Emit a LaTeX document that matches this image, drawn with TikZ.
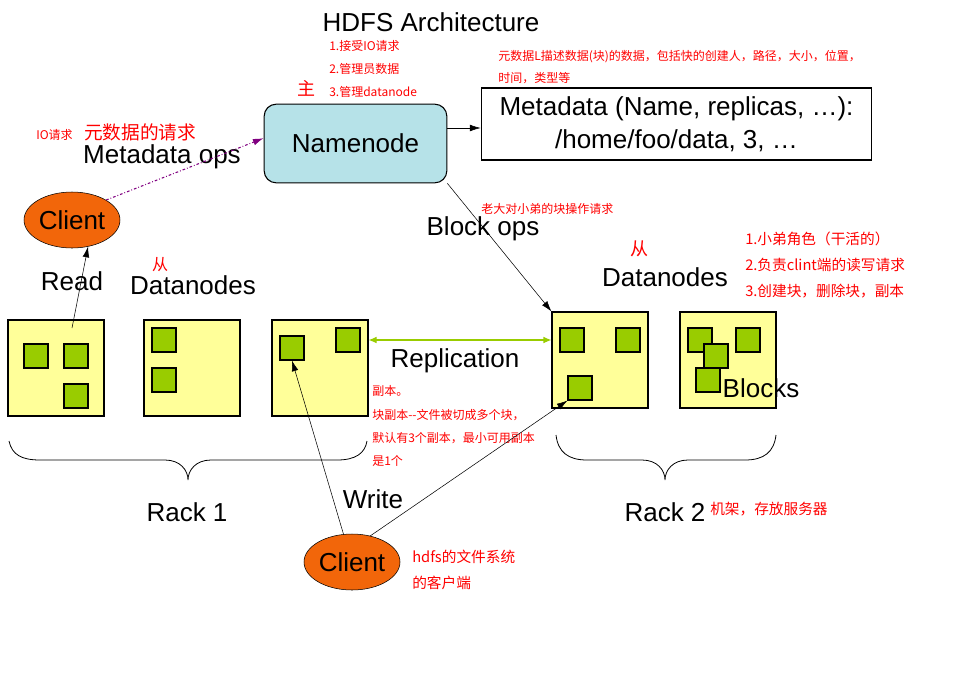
\documentclass[tikz,border=0pt]{standalone}
\usepackage{fontspec}
\setmainfont{Liberation Sans}
\newfontfamily\cjk{Noto Sans CJK SC}
\usetikzlibrary{shapes.geometric,arrows.meta}

\definecolor{dnyellow}{RGB}{255,255,153}
\definecolor{blkgreen}{RGB}{153,204,0}
\definecolor{nnblue}{RGB}{182,226,232}
\definecolor{cliorange}{RGB}{242,102,10}
\definecolor{opsviolet}{RGB}{128,0,128}

\begin{document}
\begin{tikzpicture}[x=0.75pt,y=-0.75pt,
    big/.style={font=\fontsize{19.5}{24.75}\selectfont},
    note/.style={text=red,font=\cjk\fontsize{9}{11}\selectfont,anchor=west,inner sep=0},
    notel/.style={note,font=\cjk\fontsize{11}{13}\selectfont},
    dn/.style={draw,fill=dnyellow,minimum size=72pt,inner sep=0,line width=0.8pt},
    blk/.style={draw,fill=blkgreen,minimum size=18pt,inner sep=0,line width=0.8pt},
    client/.style={ellipse,draw,fill=cliorange,minimum width=72pt,minimum height=42pt,inner sep=0,big},
    pointer/.style={-{Latex[length=8pt,width=5pt]}}]
    \useasboundingbox (0,0) rectangle (973,675);

    % namenode and metadata
    \node[big] (title) at (431,22) {HDFS Architecture};
    \node[note] (nn1) at (329,46) {1.接受IO请求};
    \node[note] (nn2) at (329,69) {2.管理员数据};
    \node[note] (nn3) at (329,92) {3.管理datanode};
    \node[text=red,font=\cjk\fontsize{13.5}{15}\selectfont] (zhu) at (306,88) {主};
    \node[draw,fill=nnblue,rounded corners=9pt,minimum width=137pt,minimum height=59pt,
      line width=0.8pt,big] (nn) at (355.5,143.5) {Namenode};
    \node[draw,fill=white,minimum width=293pt,minimum height=54pt,line width=0.8pt,
      align=center,big] (md) at (676.5,124) {Metadata (Name, replicas, …):\\/home/foo/data, 3, …};
    \node[note] (mdn1) at (498,57) {元数据L描述数据(块)的数据，包括快的创建人，路径，大小，位置，};
    \node[note] (mdn2) at (498,78) {时间，类型等};
    \draw[pointer] (nn.east |- 0,128) -- (md.west |- 0,128);

    % client for reading
    \node[client] (c1) at (72,220) {Client};
    \node[note] (io) at (36,135) {IO请求};
    \node[text=red,font=\cjk\fontsize{14}{16}\selectfont] (mdreq) at (140,132) {元数据的请求};
    \node[big] (mdops) at (162,157) {Metadata ops};
    \draw[opsviolet,line width=0.8pt,dash pattern=on 2pt off 1.5pt on 0.6pt off 1.5pt,
      -{Latex[length=8pt,width=5pt]}] (c1.north east) -- ([yshift=4pt]nn.west);

    % datanodes, rack 1
    \node[dn] (d1) at (56,368) {};
    \node[dn] (d2) at (192,368) {};
    \node[dn] (d3) at (320,368) {};
    \node[blk] (b1a) at (36,356) {};
    \node[blk] (b1b) at (76,356) {};
    \node[blk] (b1c) at (76,396) {};
    \node[blk] (b2a) at (164,340) {};
    \node[blk] (b2b) at (164,380) {};
    \node[blk] (b3a) at (292,348) {};
    \node[blk] (b3b) at (348,340) {};

    % datanodes, rack 2
    \node[dn] (d4) at (600,360) {};
    \node[dn] (d5) at (728,360) {};
    \node[blk] (b4a) at (572,340) {};
    \node[blk] (b4b) at (628,340) {};
    \node[blk] (b4c) at (580,388) {};
    \node[blk] (b5a) at (700,340) {};
    \node[blk] (b5b) at (748,340) {};
    \node[blk] (b5c) at (716,356) {};
    \node[blk] (b5d) at (708,380) {};
    \node[big] (blocks) at (761,388) {Blocks};

    \coordinate (rd) at (72,328);
    \draw[pointer] (rd) -- (c1.-59);
    \node[big] (read) at (72,281) {Read};
    \node[text=red,font=\cjk\fontsize{12}{14}\selectfont] (cong1) at (160,265) {从};
    \node[big] (dns1) at (193,285) {Datanodes};

    \draw[pointer] (nn.south east) -- (d4.north west);
    \node[big] (bops) at (483,229) {Block ops};
    \node[note] (bopsn) at (481,209) {老大对小弟的块操作请求};
    \node[text=red,font=\cjk\fontsize{13.5}{15}\selectfont] (cong2) at (639,249) {从};
    \node[big] (dns2) at (665,277) {Datanodes};
    \node[notel] (dn1) at (745,239) {1.小弟角色（干活的）};
    \node[notel] (dn2) at (745,265) {2.负责clint端的读写请求};
    \node[notel] (dn3) at (745,291) {3.创建块，删除块，副本};

    % replication
    \draw[blkgreen,line width=0.8pt,{Latex[length=6pt,width=5pt]}-{Latex[length=6pt,width=5pt]}]
      (d3.east |- 0,340) -- (d4.west |- 0,340);
    \node[big] (repl) at (455,361) {Replication};
    \node[note] (rn1) at (372,391) {副本。};
    \node[note] (rn2) at (372,415) {块副本--文件被切成多个块，};
    \node[note] (rn3) at (372,438) {默认有3个副本，最小可用副本};
    \node[note] (rn4) at (372,461) {是1个};

    % racks
    \draw[line width=0.6pt] (9,441) .. controls (12,455) and (22,460) .. (40,460) -- (165,460)
      .. controls (180,460) and (188,470) .. (188,480) .. controls (188,470) and (196,460) .. (211,460)
      -- (337,460) .. controls (356,460) and (365,453) .. (367,441);
    \draw[line width=0.6pt] (556,435) .. controls (558,452) and (568,460) .. (587,460) -- (642,460)
      .. controls (657,460) and (665,470) .. (665,480) .. controls (665,470) and (673,460) .. (688,460)
      -- (745,460) .. controls (764,460) and (774,452) .. (776,435);
    \node[big] (rack1) at (187,512) {Rack 1};
    \node[big] (rack2) at (665,512) {Rack 2};
    \node[notel] (rackn) at (710,509) {机架，存放服务器};

    % client for writing
    \node[client] (c2) at (352,562) {Client};
    \draw[pointer] (c2.107) -- (b3a.south);
    \draw[pointer] (c2.55) -- (b4c.south west);
    \node[big] (write) at (373,499) {Write};
    \node[notel] (cn1) at (412,557) {hdfs的文件系统};
    \node[notel] (cn2) at (412,583) {的客户端};
\end{tikzpicture}
\end{document}
